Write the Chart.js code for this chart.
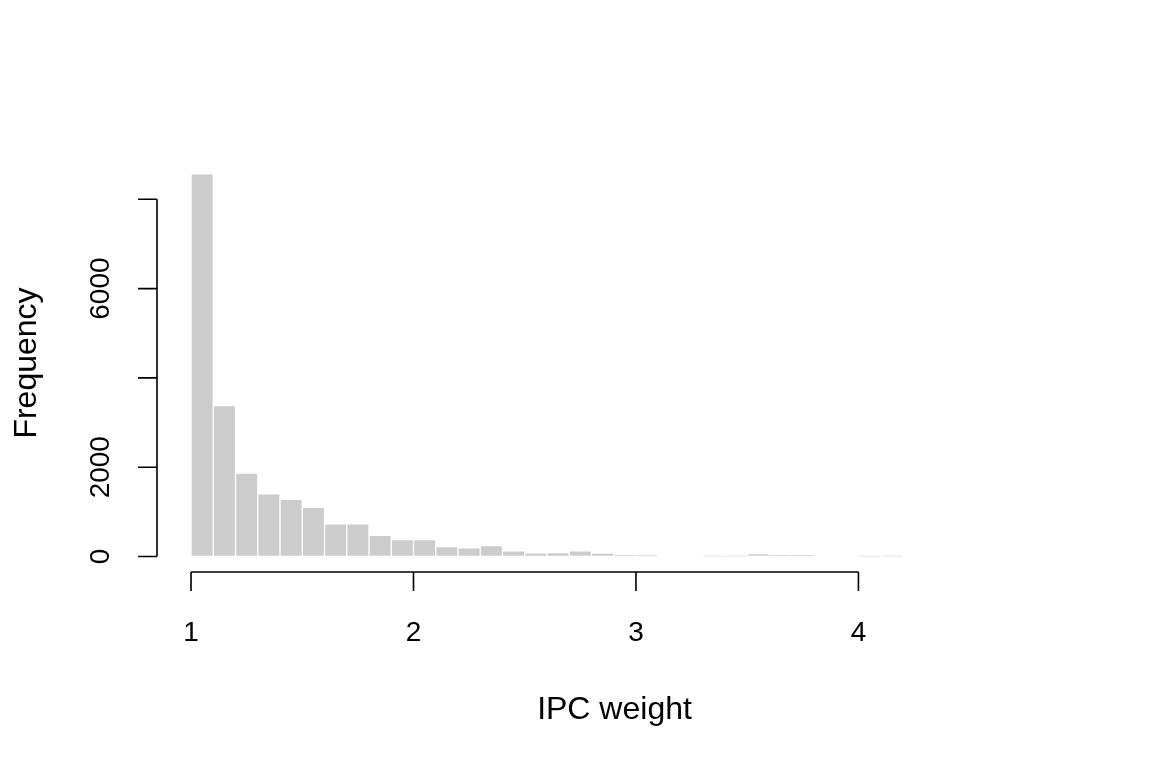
<!DOCTYPE html>
<html>
<head>
<meta charset="utf-8">
<title>IPC weight histogram</title>
<script src="https://cdn.jsdelivr.net/npm/chart.js@4"></script>
<style>
  html, body { margin: 0; padding: 0; background: #fff; }
  #wrap { width: 1152px; height: 768px; position: relative; }
</style>
</head>
<body>
<div id="wrap"><canvas id="histChart"></canvas></div>
<script>
// Histogram of IPC weights (bins of width 0.1)

const breaks = [1.0, 1.1, 1.2, 1.3, 1.4, 1.5, 1.6, 1.7, 1.8, 1.9, 2.0,
  2.1, 2.2, 2.3, 2.4, 2.5, 2.6, 2.7, 2.8, 2.9, 3.0,
  3.1, 3.2, 3.3, 3.4, 3.5, 3.6, 3.7, 3.8, 3.9, 4.0,
  4.1, 4.2];

const counts = [8569, 3382, 1866, 1402, 1283, 1104, 730, 730, 477, 381,
  381, 224, 193, 246, 125, 81, 87, 125, 74, 48,
  29, 0, 0, 20, 20, 67, 38, 38, 0, 0,
  15, 20];

const xTicks = [1, 2, 3, 4];
const xTickLabels = ['1', '2', '3', '4'];
const yTicks = [0, 2000, 4000, 6000, 8000];
const yTickLabels = ['0', '2000', '', '6000', ''];

const xTitle = 'IPC weight';
const yTitle = 'Frequency';

const FONT = '"Liberation Sans", Arial, Helvetica, sans-serif';

// bars are centred on the middle of each bin
const histData = counts.map((c, i) => ({ x: (breaks[i] + breaks[i + 1]) / 2, y: c }));

// R-style axes: lines only span the tick range, labels rotated on the y axis
const rAxes = {
  id: 'rAxes',
  afterDraw: (chart) => {
    const ctx = chart.ctx;
    const { left, right, bottom } = chart.chartArea;
    const xs = chart.scales.x;
    const ys = chart.scales.y;

    ctx.save();
    ctx.strokeStyle = '#000';
    ctx.fillStyle = '#000';
    ctx.lineWidth = 1.6;

    // x axis
    const x0 = xs.getPixelForValue(xTicks[0]);
    const x1 = xs.getPixelForValue(xTicks[xTicks.length - 1]);
    ctx.beginPath();
    ctx.moveTo(x0, bottom);
    ctx.lineTo(x1, bottom);
    xTicks.forEach((t) => {
      const px = xs.getPixelForValue(t);
      ctx.moveTo(px, bottom);
      ctx.lineTo(px, bottom + 19);
    });
    ctx.stroke();

    ctx.font = '28px ' + FONT;
    ctx.textAlign = 'center';
    ctx.textBaseline = 'alphabetic';
    xTicks.forEach((t, i) => {
      ctx.fillText(xTickLabels[i], xs.getPixelForValue(t), bottom + 69);
    });

    // y axis
    const y0 = ys.getPixelForValue(yTicks[0]);
    const y1 = ys.getPixelForValue(yTicks[yTicks.length - 1]);
    ctx.beginPath();
    ctx.moveTo(left, y0);
    ctx.lineTo(left, y1);
    yTicks.forEach((t) => {
      const py = ys.getPixelForValue(t);
      ctx.moveTo(left, py);
      ctx.lineTo(left - 19, py);
    });
    ctx.stroke();

    yTicks.forEach((t, i) => {
      if (!yTickLabels[i]) return;
      ctx.save();
      ctx.translate(left - 48, ys.getPixelForValue(t));
      ctx.rotate(-Math.PI / 2);
      ctx.fillText(yTickLabels[i], 0, 0);
      ctx.restore();
    });

    // axis titles
    ctx.font = '32px ' + FONT;
    ctx.fillText(xTitle, (left + right) / 2, 719);

    ctx.save();
    ctx.translate(36, 363);
    ctx.rotate(-Math.PI / 2);
    ctx.fillText(yTitle, 0, 0);
    ctx.restore();

    ctx.restore();
  },
};

new Chart(document.getElementById('histChart'), {
  type: 'bar',
  data: {
    datasets: [
      {
        label: yTitle,
        data: histData,
        backgroundColor: '#cccccc',
        borderColor: '#ffffff',
        borderWidth: 1,
        borderSkipped: false,
        barPercentage: 1,
        categoryPercentage: 1,
      },
    ],
  },
  options: {
    responsive: true,
    maintainAspectRatio: false,
    animation: false,
    events: [],
    layout: {
      padding: { left: 157, right: 80, top: 159, bottom: 196 },
    },
    plugins: {
      legend: { display: false },
      tooltip: { enabled: false },
      title: { display: false },
    },
    scales: {
      x: {
        type: 'linear',
        display: false,
        min: 0.847,
        max: 4.96,
        offset: false,
      },
      y: {
        type: 'linear',
        display: false,
        min: -347,
        max: 8903,
      },
    },
  },
  plugins: [rAxes],
});
</script>
</body>
</html>
